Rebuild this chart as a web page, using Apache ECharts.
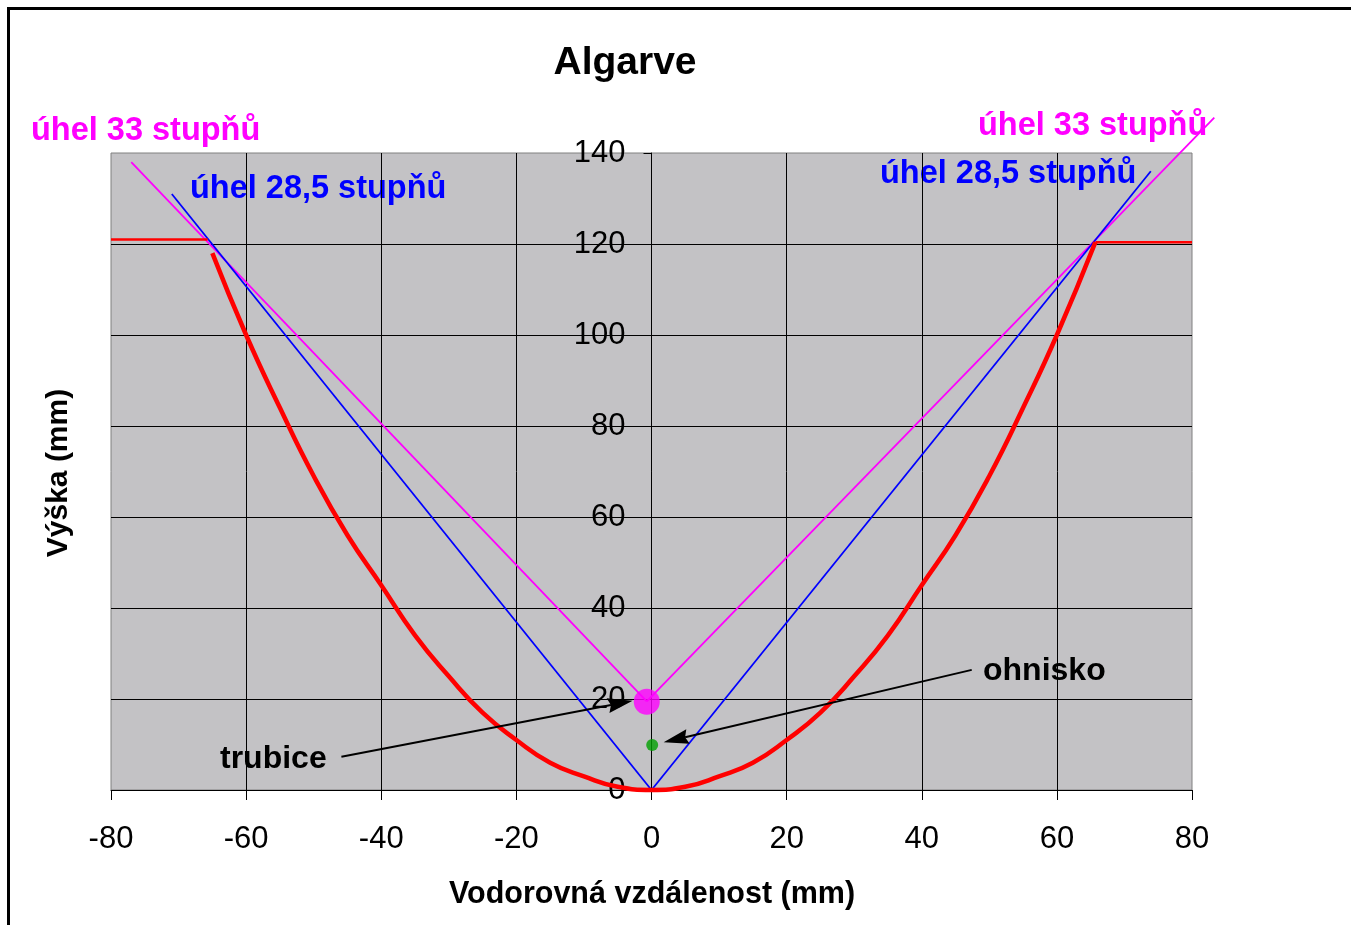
<!DOCTYPE html>
<html>
<head>
<meta charset="utf-8">
<script src="https://cdn.jsdelivr.net/npm/echarts@6/dist/echarts.min.js"></script>
<style>
html,body{margin:0;padding:0;background:#fff;}
#chart{width:1351px;height:925px;}
</style>
</head>
<body>
<div id="chart"></div>
<script>
// ---- data ----
const xTicks = [-80, -60, -40, -20, 0, 20, 40, 60, 80];
const yTicks = [0, 20, 40, 60, 80, 100, 120, 140];

const parabolaX = [-65, -60, -55, -50, -45, -40, -35, -30, -25, -20, -15, -10, -5, 0, 5, 10, 15, 20, 25, 30, 35, 40, 45, 50, 55, 60, 65.7];
const parabolaY = [118, 100, 84, 69, 56, 45, 34, 25, 17, 11, 6, 3, 0.7, 0, 0.7, 3, 6, 11, 17, 25, 34, 45, 56, 69, 84, 100, 120.4];

const rimLeftX = [-80, -65.7];
const rimLeftY = [121, 121];
const rimRightX = [65.7, 80];
const rimRightY = [120.4, 120.4];

const angle285X = [-71, 0, 73.9];
const angle285Y = [131, 0, 136];

const angle33X = [-77, -0.7, 83.3];
const angle33Y = [138, 19.5, 147.8];

const tubePoint = [-0.7, 19.4];
const focusPoint = [0.1, 9.9];

// arrows: [fromX, fromY, toX, toY]
const arrowTube = [-45.9, 7.3, -2.8, 19.6];
const arrowFocus = [47.4, 26.4, 1.8, 10.5];

const titleText = 'Algarve';
const xName = 'Vodorovná vzdálenost (mm)';
const yName = 'Výška (mm)';
const label33 = 'úhel 33 stupňů';
const label285 = 'úhel 28,5 stupňů';
const labelTube = 'trubice';
const labelFocus = 'ohnisko';

// ---- build ----
const zip = (xs, ys) => xs.map((x, i) => [x, ys[i]]);
const segments = (xs, ys) => xs.slice(1).map((x, i) => [xs[i], ys[i], x, ys[i + 1]]);
const FONT = '"Liberation Sans", Arial, sans-serif';

const chart = echarts.init(document.getElementById('chart'));

function segmentRenderer(color, width) {
  return function (params, api) {
    const p1 = api.coord([api.value(0), api.value(1)]);
    const p2 = api.coord([api.value(2), api.value(3)]);
    return {
      type: 'line',
      shape: { x1: p1[0], y1: p1[1], x2: p2[0], y2: p2[1] },
      style: { stroke: color, lineWidth: width }
    };
  };
}

function arrowRender(params, api) {
  const p1 = api.coord([api.value(0), api.value(1)]);
  const p2 = api.coord([api.value(2), api.value(3)]);
  const dx = p2[0] - p1[0], dy = p2[1] - p1[1];
  const len = Math.sqrt(dx * dx + dy * dy);
  const ux = dx / len, uy = dy / len;
  const hl = 25, hw = 7.5;
  const bx = p2[0] - ux * hl, by = p2[1] - uy * hl;
  const nx = -uy, ny = ux;
  return {
    type: 'group',
    children: [
      {
        type: 'line',
        shape: { x1: p1[0], y1: p1[1], x2: bx + ux * 3, y2: by + uy * 3 },
        style: { stroke: '#000', lineWidth: 2 }
      },
      {
        type: 'polygon',
        shape: { points: [[p2[0], p2[1]], [bx + nx * hw, by + ny * hw], [bx + ux * 3, by + uy * 3], [bx - nx * hw, by - ny * hw]] },
        style: { fill: '#000' }
      }
    ]
  };
}

const segEncode = { x: [0, 2], y: [1, 3] };

const option = {
  animation: false,
  backgroundColor: '#fff',
  grid: {
    left: 111, top: 153, width: 1081, height: 637,
    show: true, backgroundColor: '#C3C2C5', borderColor: '#808080', borderWidth: 1
  },
  xAxis: {
    type: 'value',
    min: xTicks[0], max: xTicks[xTicks.length - 1], interval: xTicks[1] - xTicks[0],
    axisLine: { show: true, onZero: false, lineStyle: { color: '#000', width: 1 } },
    axisTick: { show: true, length: 10, lineStyle: { color: '#000' } },
    axisLabel: { color: '#000', fontSize: 31, fontFamily: FONT, margin: 34 },
    splitLine: { show: true, showMinLine: false, showMaxLine: false, lineStyle: { color: '#000', width: 1 } }
  },
  yAxis: {
    type: 'value',
    offset: -540.5,
    min: yTicks[0], max: yTicks[yTicks.length - 1], interval: yTicks[1] - yTicks[0],
    axisLine: { show: true, onZero: false, lineStyle: { color: '#000', width: 1 } },
    axisTick: { show: true, length: 8, lineStyle: { color: '#000' } },
    axisLabel: { color: '#000', fontSize: 31, fontFamily: FONT, margin: 26, padding: [3, 0, 0, 0] },
    splitLine: { show: true, showMinLine: false, showMaxLine: false, lineStyle: { color: '#000', width: 1 } }
  },
  series: [
    {
      type: 'custom', renderItem: segmentRenderer('#FF00FF', 1.8),
      data: segments(angle33X, angle33Y), encode: segEncode, clip: false, z: 3
    },
    {
      type: 'custom', renderItem: segmentRenderer('#0000FF', 1.8),
      data: segments(angle285X, angle285Y), encode: segEncode, clip: false, z: 3
    },
    {
      type: 'line', data: zip(parabolaX, parabolaY), showSymbol: false, clip: false,
      smooth: 0.5, lineStyle: { color: '#FF0000', width: 4.5 }, z: 4
    },
    {
      type: 'line', data: zip(rimLeftX, rimLeftY), showSymbol: false, clip: false,
      lineStyle: { color: '#FF0000', width: 2.5 }, z: 4
    },
    {
      type: 'line', data: zip(rimRightX, rimRightY), showSymbol: false, clip: false,
      lineStyle: { color: '#FF0000', width: 2.5 }, z: 4
    },
    {
      type: 'scatter', data: [tubePoint], symbolSize: 26,
      itemStyle: { color: '#FF00FF' }, z: 5
    },
    {
      type: 'scatter', data: [focusPoint], symbolSize: 12,
      itemStyle: { color: '#00A000' }, z: 5
    },
    {
      type: 'custom', renderItem: arrowRender, data: [arrowTube, arrowFocus],
      encode: segEncode, clip: false, z: 6
    }
  ],
  graphic: [
    { type: 'rect', shape: { x: 7, y: 7, width: 1344, height: 3 }, style: { fill: '#000' } },
    { type: 'rect', shape: { x: 7, y: 7, width: 3, height: 918 }, style: { fill: '#000' } },
    { type: 'text', x: 625, y: 63, style: { text: titleText, font: 'bold 39px ' + FONT, fill: '#000', textAlign: 'center', textVerticalAlign: 'middle' } },
    { type: 'text', x: 31, y: 131, style: { text: label33, font: 'bold 32.5px ' + FONT, fill: '#FF00FF', textAlign: 'left', textVerticalAlign: 'middle' } },
    { type: 'text', x: 978, y: 126, style: { text: label33, font: 'bold 32.5px ' + FONT, fill: '#FF00FF', textAlign: 'left', textVerticalAlign: 'middle' } },
    { type: 'text', x: 190, y: 189, style: { text: label285, font: 'bold 32.5px ' + FONT, fill: '#0000FF', textAlign: 'left', textVerticalAlign: 'middle' } },
    { type: 'text', x: 880, y: 174, style: { text: label285, font: 'bold 32.5px ' + FONT, fill: '#0000FF', textAlign: 'left', textVerticalAlign: 'middle' } },
    { type: 'text', x: 220, y: 759, style: { text: labelTube, font: 'bold 32px ' + FONT, fill: '#000', textAlign: 'left', textVerticalAlign: 'middle' } },
    { type: 'text', x: 983, y: 671, style: { text: labelFocus, font: 'bold 32px ' + FONT, fill: '#000', textAlign: 'left', textVerticalAlign: 'middle' } },
    { type: 'text', x: 652, y: 895, style: { text: xName, font: 'bold 30.5px ' + FONT, fill: '#000', textAlign: 'center', textVerticalAlign: 'middle' } },
    { type: 'text', x: 59, y: 473, rotation: Math.PI / 2, style: { text: yName, font: 'bold 30px ' + FONT, fill: '#000', textAlign: 'center', textVerticalAlign: 'middle' } }
  ]
};
chart.setOption(option);
</script>
</body>
</html>
